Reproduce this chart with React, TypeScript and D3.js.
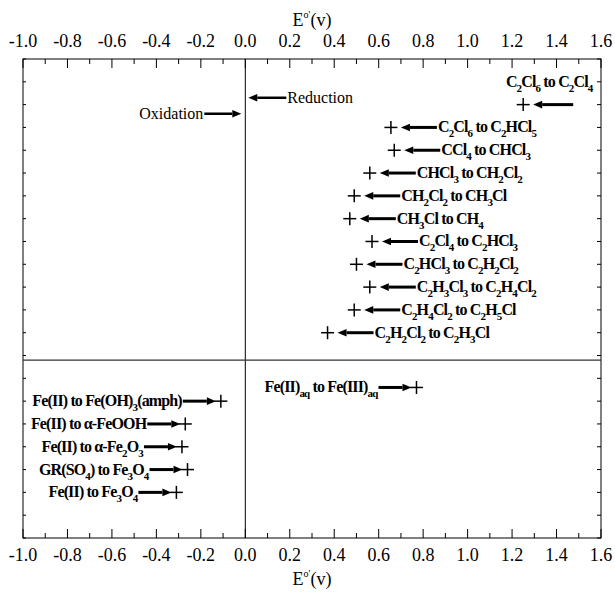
import React from "react";
import * as d3 from "d3";

const WIDTH = 615;
const HEIGHT = 593;
const MARGIN = { top: 59, right: 14, bottom: 55, left: 23 };

// x axis: standard potential E°'(v); y axis: hidden row index
const X_DOMAIN = [-1.0, 1.6];
const Y_DOMAIN = [0, 21];

// dechlorination couples (reduction, arrow points left to the +)
const reductionLabels = [
  "C_2Cl_6 to C_2HCl_5",
  "CCl_4 to CHCl_3",
  "CHCl_3 to CH_2Cl_2",
  "CH_2Cl_2 to CH_3Cl",
  "CH_3Cl to CH_4",
  "C_2Cl_4 to C_2HCl_3",
  "C_2HCl_3 to C_2H_2Cl_2",
  "C_2H_3Cl_3 to C_2H_4Cl_2",
  "C_2H_4Cl_2 to C_2H_5Cl",
  "C_2H_2Cl_2 to C_2H_3Cl",
];
const reductionE = [0.655, 0.67, 0.56, 0.49, 0.47, 0.57, 0.5, 0.56, 0.49, 0.37];
const reductionRow = [18, 17, 16, 15, 14, 13, 12, 11, 10, 9];

// the top couple has its label above the arrow
const topLabel = "C_2Cl_6 to C_2Cl_4";
const topE = 1.25;
const topRow = 19;
const topLabelRow = 20;

// iron couples (oxidation, arrow points right to the +)
const oxidationLabels = [
  "Fe(II)_aq to Fe(III)_aq",
  "Fe(II) to Fe(OH)_3(amph)",
  "Fe(II) to α-FeOOH",
  "Fe(II) to α-Fe_2O_3",
  "GR(SO_4) to Fe_3O_4",
  "Fe(II) to Fe_3O_4",
];
const oxidationE = [0.77, -0.11, -0.27, -0.285, -0.26, -0.31];
const oxidationRow = [6.6, 6, 5, 4, 3, 2];

const dividerRow = 7.8;
const reductionNoteRow = 19.3;
const oxidationNoteRow = 18.6;

const SERIF = "Liberation Serif, DejaVu Serif, serif";

function parseLabel(s: string) {
  const parts: { t: string; sub: boolean }[] = [];
  const re = /_(\d+|aq)/g;
  let last = 0;
  let m;
  while ((m = re.exec(s)) !== null) {
    if (m.index > last) parts.push({ t: s.slice(last, m.index), sub: false });
    parts.push({ t: m[1], sub: true });
    last = m.index + m[0].length;
  }
  if (last < s.length) parts.push({ t: s.slice(last), sub: false });
  return parts;
}

function Label(props: { text: string; x: number; y: number; anchor?: string }) {
  const parts = parseLabel(props.text);
  let shifted = false;
  return (
    <text
      x={props.x}
      y={props.y + 5}
      textAnchor={props.anchor || "start"}
      style={{ fontFamily: SERIF, fontWeight: "bold", fontSize: 16, letterSpacing: -0.85 }}
      fill="#000"
    >
      {parts.map((p, i) => {
        let dy = 0;
        if (p.sub && !shifted) { dy = 5; shifted = true; }
        else if (!p.sub && shifted) { dy = -5; shifted = false; }
        return (
          <tspan key={i} dy={dy} style={{ fontSize: p.sub ? 11 : 16 }}>
            {p.t}
          </tspan>
        );
      })}
    </text>
  );
}

function Arrow(props: { x1: number; x2: number; y: number; width?: number }) {
  // from x1 (tail) to x2 (head)
  const dir = props.x2 > props.x1 ? 1 : -1;
  const headLen = 9;
  const baseX = props.x2 - dir * headLen;
  return (
    <g>
      <line x1={props.x1} x2={baseX} y1={props.y} y2={props.y} stroke="#000" strokeWidth={props.width || 3} />
      <polygon
        points={`${props.x2},${props.y} ${baseX},${props.y - 3.8} ${baseX},${props.y + 3.8}`}
        fill="#000"
      />
    </g>
  );
}

function Plus(props: { x: number; y: number }) {
  const h = 6.5;
  return (
    <g stroke="#000" strokeWidth={1.5}>
      <line x1={props.x - h} x2={props.x + h} y1={props.y} y2={props.y} />
      <line x1={props.x} x2={props.x} y1={props.y - h} y2={props.y + h} />
    </g>
  );
}

function AxisTitle(props: { x: number; y: number }) {
  return (
    <text x={props.x} y={props.y} textAnchor="middle" style={{ fontFamily: SERIF, fontSize: 18 }}>
      <tspan>E</tspan>
      <tspan dy={-8} style={{ fontSize: 10 }}>o'</tspan>
      <tspan dy={8}>(v)</tspan>
    </text>
  );
}

export default function App() {
  const boundsWidth = WIDTH - MARGIN.left - MARGIN.right;
  const boundsHeight = HEIGHT - MARGIN.top - MARGIN.bottom;

  const xScale = d3.scaleLinear().domain(X_DOMAIN).range([0, boundsWidth]);
  const yScale = d3.scaleLinear().domain(Y_DOMAIN).range([boundsHeight, 0]);

  const majorTicks = d3.range(0, 14).map((i) => X_DOMAIN[0] + i * 0.2);
  const minorTicks = d3.range(0, 27).map((i) => X_DOMAIN[0] + i * 0.1);
  const yTicks = d3.range(Y_DOMAIN[0], Y_DOMAIN[1] + 1);

  const fmt = (v: number) => {
    const r = Math.round(v * 10) / 10;
    return (Math.abs(r) < 1e-9 ? 0 : r).toFixed(1);
  };

  const ARROW_GAP = 10;
  const ARROW_LEN = 36;
  const OX_ARROW_LEN = 33;

  return (
    <svg width={WIDTH} height={HEIGHT} style={{ position: "absolute", left: 0, top: 0, fontFamily: SERIF }}>
      <rect width={WIDTH} height={HEIGHT} fill="#fff" />
      <g transform={`translate(${MARGIN.left},${MARGIN.top})`}>
        {/* frame */}
        <rect x={0} y={0} width={boundsWidth} height={boundsHeight} fill="none" stroke="#000" strokeWidth={1} />

        {/* x ticks, top and bottom, inward */}
        {minorTicks.map((v, i) => {
          const major = i % 2 === 0;
          const len = major ? 9 : 5;
          return (
            <g key={i} stroke="#000" strokeWidth={1}>
              <line x1={xScale(v)} x2={xScale(v)} y1={0} y2={len} />
              <line x1={xScale(v)} x2={xScale(v)} y1={boundsHeight} y2={boundsHeight - len} />
            </g>
          );
        })}
        {/* y ticks, left and right, inward */}
        {yTicks.map((v, i) => (
          <g key={i} stroke="#000" strokeWidth={1}>
            <line x1={0} x2={3} y1={yScale(v)} y2={yScale(v)} />
            <line x1={boundsWidth} x2={boundsWidth - 4} y1={yScale(v)} y2={yScale(v)} />
          </g>
        ))}

        {/* tick labels */}
        {majorTicks.map((v, i) => (
          <g key={i} textAnchor="middle" style={{ fontFamily: SERIF, fontSize: 18 }}>
            <text x={xScale(v)} y={-12}>{fmt(v)}</text>
            <text x={xScale(v)} y={boundsHeight + 23}>{fmt(v)}</text>
          </g>
        ))}

        <AxisTitle x={boundsWidth / 2} y={-33} />
        <AxisTitle x={boundsWidth / 2} y={boundsHeight + 47} />

        {/* zero line and divider */}
        <line x1={xScale(0)} x2={xScale(0)} y1={0} y2={boundsHeight} stroke="#000" strokeWidth={1} />
        <line x1={0} x2={boundsWidth} y1={yScale(dividerRow)} y2={yScale(dividerRow)} stroke="#333" strokeWidth={1.2} />

        {/* oxidation / reduction notes */}
        <Arrow x1={xScale(0) + 41} x2={xScale(0) + 3} y={yScale(reductionNoteRow)} width={2.5} />
        <text x={xScale(0) + 42} y={yScale(reductionNoteRow) + 5} style={{ fontFamily: SERIF, fontSize: 16 }}>
          Reduction
        </text>
        <Arrow x1={xScale(0) - 41} x2={xScale(0) - 4} y={yScale(oxidationNoteRow)} width={2.5} />
        <text x={xScale(0) - 42} y={yScale(oxidationNoteRow) + 5} textAnchor="end" style={{ fontFamily: SERIF, fontSize: 16 }}>
          Oxidation
        </text>

        {/* top couple */}
        <Plus x={xScale(topE)} y={yScale(topRow)} />
        <Arrow x1={xScale(topE) + ARROW_GAP + 40} x2={xScale(topE) + ARROW_GAP} y={yScale(topRow)} />
        <Label text={topLabel} x={xScale(topE) + 26} y={yScale(topLabelRow)} anchor="middle" />

        {/* reduction couples */}
        {reductionLabels.map((lab, i) => {
          const px = xScale(reductionE[i]);
          const py = yScale(reductionRow[i]);
          const tail = px + ARROW_GAP + ARROW_LEN;
          return (
            <g key={i}>
              <Plus x={px} y={py} />
              <Arrow x1={tail} x2={px + ARROW_GAP} y={py} />
              <Label text={lab} x={tail + 1} y={py} />
            </g>
          );
        })}

        {/* oxidation couples */}
        {oxidationLabels.map((lab, i) => {
          const px = xScale(oxidationE[i]);
          const py = yScale(oxidationRow[i]);
          const head = px - 5;
          const tail = head - OX_ARROW_LEN;
          return (
            <g key={i}>
              <Plus x={px} y={py} />
              <Arrow x1={tail} x2={head} y={py} />
              <Label text={lab} x={tail - 1} y={py} anchor="end" />
            </g>
          );
        })}
      </g>
    </svg>
  );
}
